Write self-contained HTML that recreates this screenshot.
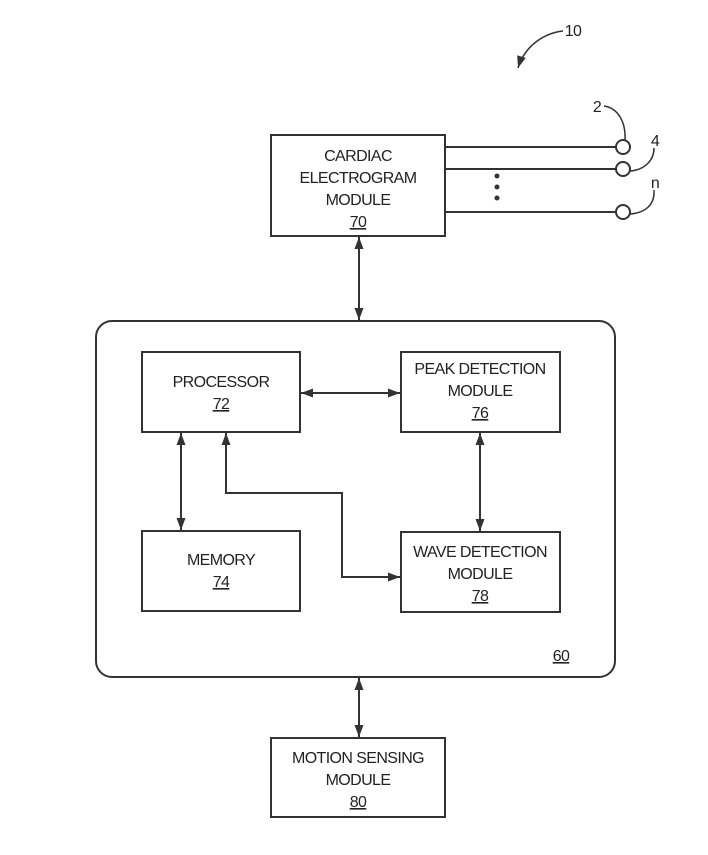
<!DOCTYPE html>
<html><head><meta charset="utf-8"><style>
html,body{margin:0;padding:0;background:#fff;}
svg{display:block;}
text{font-family:"Liberation Sans",sans-serif;font-size:16px;fill:#222;text-anchor:middle;letter-spacing:-0.6px;}
</style></head><body>
<svg width="708" height="855" viewBox="0 0 708 855" xmlns="http://www.w3.org/2000/svg">
<defs>
<marker id="a" viewBox="0 0 12 10" refX="12" refY="5" markerWidth="12" markerHeight="10" markerUnits="userSpaceOnUse" orient="auto-start-reverse">
<path d="M0,0.5 L12,5 L0,9.5 z" fill="#333"/></marker>
</defs>
<g fill="none" stroke="#333" stroke-width="2">
<path d="M563,31 C545,33 525,45 518,68" stroke-width="1.5" marker-end="url(#a)"/>
<rect x="271" y="135" width="174" height="101"/>
<line x1="445" y1="147" x2="616" y2="147"/>
<line x1="445" y1="169" x2="616" y2="169"/>
<line x1="445" y1="212" x2="616" y2="212"/>
<circle cx="623" cy="147" r="7"/>
<circle cx="623" cy="169" r="7"/>
<circle cx="623" cy="212" r="7"/>
<path d="M604,106 C618,108 626,122 625,140" stroke-width="1.5"/>
<path d="M630,171 C645,170 654,160 654,148" stroke-width="1.5"/>
<path d="M630,214 C645,213 655,205 654,190" stroke-width="1.5"/>
<rect x="96" y="321" width="519" height="356" rx="16"/>
<line x1="359" y1="237" x2="359" y2="320" marker-start="url(#a)" marker-end="url(#a)"/>
<line x1="359" y1="678" x2="359" y2="737" marker-start="url(#a)" marker-end="url(#a)"/>
<rect x="142" y="352" width="158" height="80"/>
<rect x="401" y="352" width="159" height="80"/>
<rect x="142" y="531" width="158" height="80"/>
<rect x="401" y="532" width="159" height="80"/>
<line x1="301" y1="393" x2="400" y2="393" marker-start="url(#a)" marker-end="url(#a)"/>
<line x1="181" y1="433" x2="181" y2="530" marker-start="url(#a)" marker-end="url(#a)"/>
<line x1="480" y1="433" x2="480" y2="531" marker-start="url(#a)" marker-end="url(#a)"/>
<polyline points="226,433 226,493 342,493 342,577 400,577" marker-start="url(#a)" marker-end="url(#a)"/>
<rect x="271" y="738" width="174" height="79"/>
</g>
<text x="573" y="36" text-anchor="start">10</text>
<text x="597" y="112">2</text>
<text x="655" y="146">4</text>
<text x="655" y="188">n</text>
<circle cx="497" cy="176" r="2.5" fill="#333"/>
<circle cx="497" cy="187" r="2.5" fill="#333"/>
<circle cx="497" cy="198" r="2.5" fill="#333"/>
<text x="358" y="161">CARDIAC</text>
<text x="358" y="183">ELECTROGRAM</text>
<text x="358" y="205">MODULE</text>
<text x="358" y="227" text-decoration="underline">70</text>
<text x="221" y="387">PROCESSOR</text>
<text x="221" y="409" text-decoration="underline">72</text>
<text x="480" y="374">PEAK DETECTION</text>
<text x="480" y="396">MODULE</text>
<text x="480" y="418" text-decoration="underline">76</text>
<text x="221" y="565">MEMORY</text>
<text x="221" y="587" text-decoration="underline">74</text>
<text x="480" y="557">WAVE DETECTION</text>
<text x="480" y="579">MODULE</text>
<text x="480" y="601" text-decoration="underline">78</text>
<text x="561" y="661" text-decoration="underline">60</text>
<text x="358" y="763">MOTION SENSING</text>
<text x="358" y="785">MODULE</text>
<text x="358" y="807" text-decoration="underline">80</text>
</svg>
</body></html>
